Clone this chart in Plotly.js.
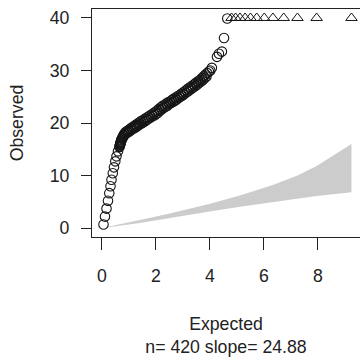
<!DOCTYPE html>
<html><head><meta charset="utf-8">
<script src="https://cdn.plot.ly/plotly-3.0.1.min.js"></script>
<style>html,body{margin:0;padding:0;background:#fff}#chart{width:360px;height:359px}</style>
</head><body><div id="chart"></div>
<script>
// Observed vs expected points (circles: observed below cap)
const circleX = [0.056,0.111,0.167,0.222,0.270,0.315,0.352,0.400,0.444,0.493,0.537,0.593,0.648,
  0.657,0.664,0.671,0.678,0.685,0.692,0.699,0.706,0.713,0.720,
  0.735,0.75,0.765,0.78,0.797,0.812,0.83,0.85,
  0.877,0.905,0.93,0.958,0.985,1.01,1.04,1.065,1.09,1.12,1.15,
  1.18,1.21,1.24,1.265,1.295,1.325,1.355,1.38,1.41,
  1.445,1.48,1.51,1.545,1.58,1.61,1.645,1.68,1.71,1.745,1.78,
  1.815,1.85,1.88,1.915,1.95,1.98,2.015,2.05,2.08,2.115,2.15,
  2.185,2.22,2.25,2.285,2.32,2.35,2.385,2.42,2.45,2.485,2.52,
  2.553,2.586,2.62,2.65,2.685,2.72,2.75,2.785,2.82,2.85,
  2.885,2.92,2.955,2.99,3.02,3.055,3.09,3.125,3.16,3.19,3.225,3.26,
  3.3,3.335,3.37,3.41,3.445,3.48,3.52,3.555,3.59,3.63,
  3.665,3.7,3.735,3.77,3.8,3.835,3.87,3.9,3.96,4.01,4.07,
  4.26,4.33,4.44,4.52,4.64];
const circleY = [0.66,2.18,3.70,5.21,6.64,7.96,9.19,10.43,11.56,12.70,13.65,14.60,15.45,
  15.63,15.76,15.89,16.02,16.15,16.28,16.41,16.54,16.67,16.80,
  17.0,17.05,17.35,17.3,17.65,17.6,17.95,17.9,
  18.3,18.05,18.45,18.25,18.65,18.4,18.85,18.6,19.1,18.8,19.3,
  19.0,19.5,19.15,19.65,19.4,19.9,19.55,20.1,19.8,
  20.35,19.95,20.5,20.2,20.75,20.4,21.0,20.65,21.2,20.9,21.45,
  21.1,21.6,21.35,21.9,21.5,22.15,21.75,22.4,22.0,22.7,22.4,
  23.0,22.6,23.3,22.9,23.45,23.1,23.7,23.3,23.95,23.6,24.1,
  23.8,24.35,24.0,24.6,24.2,24.8,24.45,25.05,24.7,25.25,
  24.95,25.5,25.15,25.75,25.4,26.0,25.7,26.3,25.95,26.55,26.2,26.8,
  26.5,27.1,26.75,27.35,27.0,27.65,27.3,27.95,27.6,28.2,
  27.9,28.55,28.2,28.9,28.5,29.25,28.85,29.5,29.8,30.0,30.5,
  32.6,33.2,33.6,36.2,39.9];
// Points whose observed value exceeds the cap (drawn as triangles at the cap)
const capX = [4.80,4.95,5.11,5.30,5.50,5.73,6.01,6.33,6.73,7.24,7.95,9.24];
const capValue = 40;
// Grey envelope
const bandX = [0,0.10,0.51,1.40,2.43,3.93,5.11,6.33,7.24,7.95,9.24];
const bandUpper = [0,0.12,0.55,1.55,2.65,4.55,6.2,8.2,10.0,11.8,16.0];
const bandLower = [0,0.06,0.36,0.98,1.78,3.1,4.05,4.95,5.6,6.1,6.8];
const xTicks = [0,2,4,6,8];
const yTicks = [0,10,20,30,40];
const nPoints = 420, slope = 24.88;

const ink = '#222222';
const markInk = '#161616';
const traces = [
  {x: bandX.concat(bandX.slice().reverse()), y: bandUpper.concat(bandLower.slice().reverse()),
   type:'scatter', mode:'lines', fill:'toself', fillcolor:'#cccccc', line:{width:0}, hoverinfo:'skip'},
  {x: circleX, y: circleY, type:'scatter', mode:'markers',
   marker:{symbol:'circle-open', size:9.5, color:markInk, line:{width:1.1, color:markInk}}},
  {x: capX, y: capX.map(()=>capValue), type:'scatter', mode:'markers',
   marker:{symbol:'triangle-up-open', size:10, color:markInk, line:{width:1, color:markInk}}}
];
const font = {family:'"Liberation Sans", Arial, sans-serif', size:17.7, color:ink};
const layout = {
  width:360, height:359, showlegend:false,
  paper_bgcolor:'#ffffff', plot_bgcolor:'#ffffff',
  margin:{l:92, r:0, t:9, b:122, pad:0},
  font: font,
  xaxis:{range:[-0.370, 9.556], showgrid:false, zeroline:false, showline:true, mirror:true,
    linecolor:ink, linewidth:1, ticks:'outside', ticklen:12, tickwidth:1, tickcolor:ink,
    tickvals:xTicks, ticktext:xTicks.map(String), ticklabelstandoff:11, tickfont:font,
    title:{text:'Expected<br>n= ' + nPoints + ' slope= ' + slope.toFixed(2), font:font, standoff:32}},
  yaxis:{range:[-1.706, 41.71], showgrid:false, zeroline:false, showline:true,
    linecolor:ink, linewidth:1, ticks:'outside', ticklen:10, tickwidth:1, tickcolor:ink,
    tickvals:yTicks, ticktext:yTicks.map(String), ticklabelstandoff:8, tickfont:font,
    title:{text:'Observed', font:font, standoff:21}}
};
Plotly.newPlot('chart', traces, layout, {displayModeBar:false, staticPlot:true});
</script>
</body></html>
